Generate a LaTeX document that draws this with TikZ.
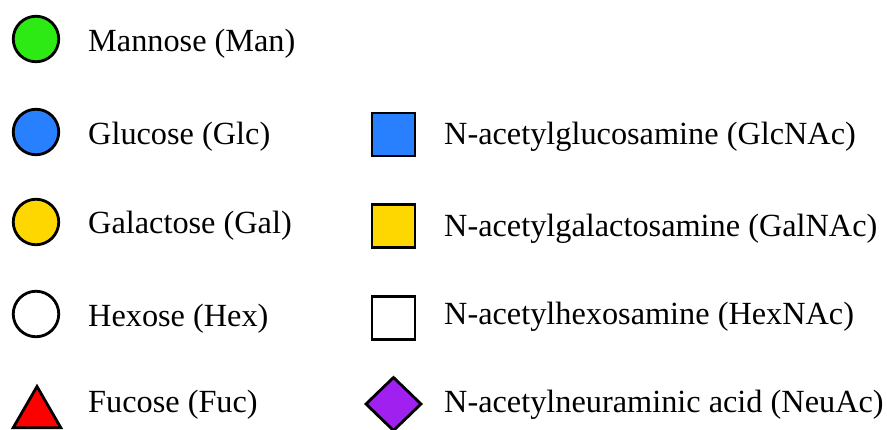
\documentclass[tikz,border=0pt]{standalone}
\usepackage{fontspec}
\setmainfont{Liberation Serif}
\usetikzlibrary{shapes.geometric}
\definecolor{manG}{RGB}{46,234,20}
\definecolor{glcB}{RGB}{40,128,255}
\definecolor{galY}{RGB}{255,215,0}
\definecolor{fucR}{RGB}{255,0,0}
\definecolor{neuP}{RGB}{160,32,240}
\begin{document}
\begin{tikzpicture}[x=1pt,y=-1pt,
  sym/.style={draw=black,line width=2.8pt,inner sep=0pt,outer sep=0pt},
  circ/.style={sym,circle,minimum size=45.5pt},
  sq/.style={sym,rectangle,minimum size=43pt},
  tri/.style={sym,regular polygon,regular polygon sides=3,minimum size=55pt,line join=miter},
  dia/.style={sym,diamond,minimum width=55pt,minimum height=53pt},
  lab/.style={anchor=base west,inner sep=0pt,font=\fontsize{32.3}{36}\selectfont}]
\useasboundingbox (0,0) rectangle (887,430);
% monosaccharide symbols, left column
\node[circ,fill=manG] (man) at (36,39) {};
\node[circ,fill=glcB] (glc) at (36,132) {};
\node[circ,fill=galY] (gal) at (36,222) {};
\node[circ,fill=white] (hex) at (36,314) {};
\node[tri,fill=fucR] (fuc) at (37,414) {};
% amino sugar symbols, right column
\node[sq,fill=glcB] (glcnac) at (393.5,134.5) {};
\node[sq,fill=galY] (galnac) at (393.5,226) {};
\node[sq,fill=white] (hexnac) at (393.5,318) {};
\node[dia,fill=neuP] (neuac) at (393.5,404) {};
% names
\node[lab] (tman) at (88,52) {Mannose (Man)};
\node[lab] (tglc) at (88,145) {Glucose (Glc)};
\node[lab] (tgal) at (88,234) {Galactose (Gal)};
\node[lab] (thex) at (88,327) {Hexose (Hex)};
\node[lab] (tfuc) at (88,413) {Fucose (Fuc)};
\node[lab] (tglcnac) at (444,145) {N-acetylglucosamine (GlcNAc)};
\node[lab] (tgalnac) at (444,237) {N-acetylgalactosamine (GalNAc)};
\node[lab] (thexnac) at (444,325) {N-acetylhexosamine (HexNAc)};
\node[lab] (tneuac) at (444,413) {N-acetylneuraminic acid (NeuAc)};
\end{tikzpicture}
\end{document}
